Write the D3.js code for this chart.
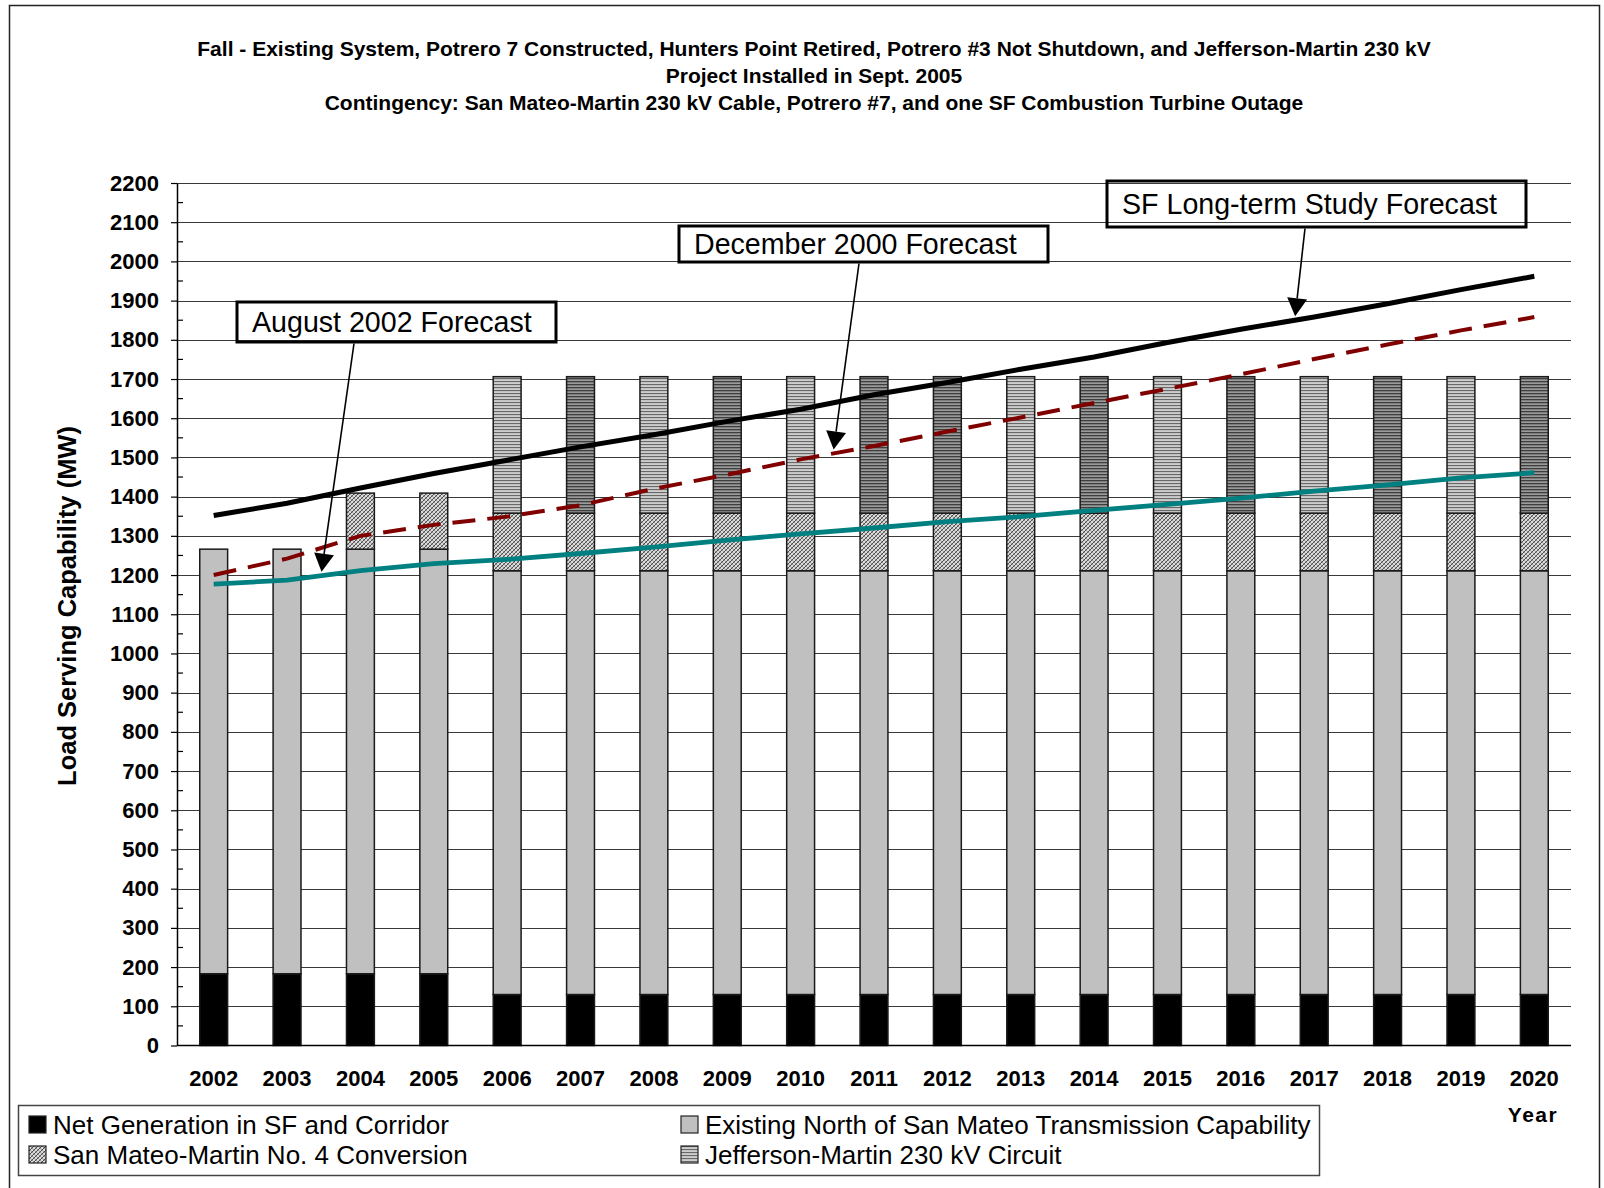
<!DOCTYPE html>
<html>
<head>
<meta charset="utf-8">
<script src="https://cdn.jsdelivr.net/npm/d3@7"></script>
<style>
  html, body { margin: 0; padding: 0; background: #fff; }
  svg { display: block; font-family: "Liberation Sans", Arial, sans-serif; }
</style>
</head>
<body>
<svg id="chart" width="1604" height="1188"></svg>
<script>
// ---------------- data ----------------
const years = ["2002","2003","2004","2005","2006","2007","2008","2009","2010","2011",
               "2012","2013","2014","2015","2016","2017","2018","2019","2020"];

const netGeneration   = [183,183,183,183,130,130,130,130,130,130,130,130,130,130,130,130,130,130,130];
const existingNorth   = [1083,1083,1083,1083,1081,1081,1081,1081,1081,1081,1081,1081,1081,1081,1081,1081,1081,1081,1081];
const sanMateoMartin4 = [0,0,143,143,147,147,147,147,147,147,147,147,147,147,147,147,147,147,147];
const jeffersonMartin = [0,0,0,0,348,348,348,348,348,348,348,348,348,348,348,348,348,348,348];

const sfLongTerm  = [1352,1383,1422,1459,1493,1527,1558,1592,1623,1660,1691,1725,1756,1793,1827,1858,1892,1928,1962];
const dec2000     = [1200,1242,1300,1328,1349,1378,1420,1456,1495,1529,1566,1602,1639,1675,1712,1751,1788,1824,1858];
const aug2002     = [1177,1187,1211,1229,1240,1255,1271,1289,1305,1320,1336,1349,1365,1380,1396,1414,1430,1448,1461];

const yTicks = d3.range(0, 2201, 100);

const titleLines = [
  "Fall - Existing System, Potrero 7 Constructed, Hunters Point Retired, Potrero #3 Not Shutdown, and Jefferson-Martin 230 kV",
  "Project Installed in Sept. 2005",
  "Contingency: San Mateo-Martin 230 kV Cable, Potrero #7, and one SF Combustion Turbine Outage"
];
const yAxisTitle = "Load Serving Capability (MW)";
const xAxisTitle = "Year";

const seriesNames = {
  net: "Net Generation in SF and Corridor",
  existing: "Existing North of San Mateo Transmission Capability",
  smm: "San Mateo-Martin No. 4 Conversion",
  jm: "Jefferson-Martin 230 kV Circuit"
};

// ---------------- layout ----------------
const svg = d3.select("#chart");
const FONT = '"Liberation Sans", Arial, sans-serif';
const plot = { left: 177, right: 1571, top: 183, bottom: 1045.5 };

const x = d3.scaleBand().domain(years).range([plot.left, plot.right])
  .paddingInner(0.62).paddingOuter(0.31);
const y = d3.scaleLinear().domain([0, 2200]).range([plot.bottom, plot.top]);

// outer frame
svg.append("rect").attr("x", 9.5).attr("y", 5.5).attr("width", 1590).attr("height", 1250)
  .attr("fill", "none").attr("stroke", "#222").attr("stroke-width", 1.5);

// ---------------- patterns ----------------
const defs = svg.append("defs");
const hatch = defs.append("pattern").attr("id", "hatch").attr("patternUnits", "userSpaceOnUse")
  .attr("width", 4).attr("height", 4);
hatch.append("rect").attr("width", 4).attr("height", 4).attr("fill", "#dcdcdc");
hatch.append("path").attr("d", "M-1,1 L1,-1 M0,4 L4,0 M3,5 L5,3").attr("stroke", "#404040").attr("stroke-width", 0.9);
hatch.append("path").attr("d", "M-1,3 L1,5 M0,0 L4,4 M3,-1 L5,1").attr("stroke", "#7a7a7a").attr("stroke-width", 0.7);

function stripes(id, bg, line, w) {
  const p = defs.append("pattern").attr("id", id).attr("patternUnits", "userSpaceOnUse")
    .attr("width", 6).attr("height", 3);
  p.append("rect").attr("width", 6).attr("height", 3).attr("fill", bg);
  p.append("rect").attr("y", 0).attr("width", 6).attr("height", w).attr("fill", line);
}
stripes("stripesLight", "#cdcdcd", "#686868", 1.1);
stripes("stripesDark", "#9a9a9a", "#3e3e3e", 1.3);

// ---------------- title ----------------
const titleY = [56, 83, 110];
svg.append("g").selectAll("text").data(titleLines).join("text")
  .attr("x", 814).attr("y", (d, i) => titleY[i])
  .attr("text-anchor", "middle").attr("font-weight", "bold").attr("font-size", 21)
  .attr("fill", "#000").text(d => d);

// ---------------- grid ----------------
svg.append("g").selectAll("line").data(yTicks.filter(v => v > 0)).join("line")
  .attr("x1", plot.left).attr("x2", plot.right)
  .attr("y1", d => Math.round(y(d)) + 0.5).attr("y2", d => Math.round(y(d)) + 0.5)
  .attr("stroke", "#3a3a3a").attr("stroke-width", 1);

// ---------------- bars ----------------
const rows = years.map((yr, i) => ({
  year: yr, net: netGeneration[i], existing: existingNorth[i], smm: sanMateoMartin4[i], jm: jeffersonMartin[i]
}));
const keys = ["net", "existing", "smm", "jm"];
const stacked = d3.stack().keys(keys)(rows);

// stripe shading emulating the moire in the original rendering
function jmFill(yr) {
  const cx = x(yr) + x.bandwidth() / 2;
  return Math.floor(cx / 67.4) % 2 === 1 ? "url(#stripesLight)" : "url(#stripesDark)";
}
const fills = { net: () => "#000", existing: () => "#c0c0c0", smm: () => "url(#hatch)", jm: jmFill };

const barG = svg.append("g");
stacked.forEach(layer => {
  barG.append("g").selectAll("rect")
    .data(layer.filter(d => d[1] - d[0] > 0))
    .join("rect")
    .attr("x", d => x(d.data.year))
    .attr("width", x.bandwidth())
    .attr("y", d => y(d[1]))
    .attr("height", d => y(d[0]) - y(d[1]))
    .attr("fill", d => fills[layer.key](d.data.year))
    .attr("stroke", "#1a1a1a").attr("stroke-width", 1.5);
});

// ---------------- axes ----------------
const yAxis = d3.axisLeft(y).tickValues(yTicks).tickFormat(d3.format("d"))
  .tickSize(6).tickSizeOuter(0).tickPadding(12);
const yAxG = svg.append("g").attr("transform", `translate(${plot.left},0)`).call(yAxis);
yAxG.select(".domain").attr("stroke", "#000").attr("stroke-width", 1.5);
yAxG.selectAll(".tick line").attr("stroke", "#000").attr("stroke-width", 1.2);
yAxG.selectAll(".tick text").attr("font-family", FONT).attr("font-size", 22)
  .attr("font-weight", "bold").attr("fill", "#000");
// minor ticks
svg.append("g").selectAll("line").data(d3.range(50, 2200, 100)).join("line")
  .attr("x1", plot.left).attr("x2", plot.left + 6)
  .attr("y1", d => y(d)).attr("y2", d => y(d))
  .attr("stroke", "#000").attr("stroke-width", 1.2);

const xAxis = d3.axisBottom(x).tickSize(0).tickSizeOuter(0).tickPadding(0);
const xAxG = svg.append("g").attr("transform", `translate(0,${plot.bottom})`).call(xAxis);
xAxG.select(".domain").attr("d", `M${plot.left},0H${plot.right}`).attr("stroke", "#000").attr("stroke-width", 1.5);
xAxG.selectAll(".tick text").attr("font-family", FONT).attr("font-size", 22)
  .attr("font-weight", "bold").attr("fill", "#000").attr("dy", null).attr("y", 40.5);

svg.append("text").attr("x", 1533).attr("y", 1122).attr("text-anchor", "middle")
  .attr("font-size", 21).attr("font-weight", "bold").attr("letter-spacing", 1.5).text(xAxisTitle);

svg.append("text").attr("transform", "translate(76,606) rotate(-90)")
  .attr("text-anchor", "middle").attr("font-size", 25.5).attr("font-weight", "bold").text(yAxisTitle);

// ---------------- lines ----------------
const cx = yr => x(yr) + x.bandwidth() / 2;
const lineGen = d3.line().x((d, i) => cx(years[i])).y(d => y(d));

svg.append("path").datum(aug2002).attr("d", lineGen).attr("fill", "none")
  .attr("stroke", "#008080").attr("stroke-width", 4.8);
svg.append("path").datum(dec2000).attr("d", lineGen).attr("fill", "none")
  .attr("stroke", "#800000").attr("stroke-width", 4).attr("stroke-dasharray", "23,12");
svg.append("path").datum(sfLongTerm).attr("d", lineGen).attr("fill", "none")
  .attr("stroke", "#000").attr("stroke-width", 5);

// ---------------- annotations ----------------
function valueAt(series, t) {
  const i = Math.floor(t), f = t - i;
  return series[i] + f * (series[Math.min(i + 1, series.length - 1)] - series[i]);
}
function posAt(t) { return cx(years[0]) + t * x.step(); }

const annotations = [
  { label: "August 2002 Forecast", series: aug2002, t: 1.47, box: { x: 237, y: 302, w: 319, h: 40 }, from: 354 },
  { label: "December 2000 Forecast", series: dec2000, t: 8.45, box: { x: 679, y: 226, w: 369, h: 36 }, from: 859 },
  { label: "SF Long-term Study Forecast", series: sfLongTerm, t: 14.74, box: { x: 1107, y: 181, w: 419, h: 46 }, from: 1305 }
];

const annG = svg.append("g");
annotations.forEach(a => {
  annG.append("rect").attr("x", a.box.x).attr("y", a.box.y).attr("width", a.box.w).attr("height", a.box.h)
    .attr("fill", "#fff").attr("fill-opacity", 0).attr("stroke", "#000").attr("stroke-width", 3);
  annG.append("text").attr("x", a.box.x + 15).attr("y", a.box.y + a.box.h / 2 + 10)
    .attr("font-size", 28.6).attr("fill", "#000").text(a.label);
  const tx = posAt(a.t), ty = y(valueAt(a.series, a.t)) - 4;
  const sx = a.from, sy = a.box.y + a.box.h + 1.5;
  const ang = Math.atan2(ty - sy, tx - sx);
  const L = 18, W = 10;
  const bx = tx - L * Math.cos(ang), by = ty - L * Math.sin(ang);
  annG.append("line").attr("x1", sx).attr("y1", sy).attr("x2", bx).attr("y2", by)
    .attr("stroke", "#000").attr("stroke-width", 1.6);
  const px = -Math.sin(ang), py = Math.cos(ang);
  annG.append("path")
    .attr("d", `M${tx},${ty}L${bx + W * px},${by + W * py}L${bx - W * px},${by - W * py}Z`)
    .attr("fill", "#000");
});

// ---------------- legend ----------------
svg.append("rect").attr("x", 18.5).attr("y", 1105.5).attr("width", 1301).attr("height", 70)
  .attr("fill", "#fff").attr("stroke", "#444").attr("stroke-width", 1.5);
const legendItems = [
  { key: "net", col: 0, row: 0, fill: "#000" },
  { key: "existing", col: 1, row: 0, fill: "#c0c0c0" },
  { key: "smm", col: 0, row: 1, fill: "url(#hatch)" },
  { key: "jm", col: 1, row: 1, fill: "url(#stripesLight)" }
];
const colX = [29, 681], rowY = [1116, 1146];
const lg = svg.append("g").selectAll("g").data(legendItems).join("g");
lg.append("rect").attr("x", d => colX[d.col]).attr("y", d => rowY[d.row])
  .attr("width", 17).attr("height", 17).attr("fill", d => d.fill)
  .attr("stroke", "#222").attr("stroke-width", 1.2);
lg.append("text").attr("x", d => colX[d.col] + 24).attr("y", d => rowY[d.row] + 18)
  .attr("font-size", 26).attr("fill", "#000").text(d => seriesNames[d.key]);
</script>
</body>
</html>
